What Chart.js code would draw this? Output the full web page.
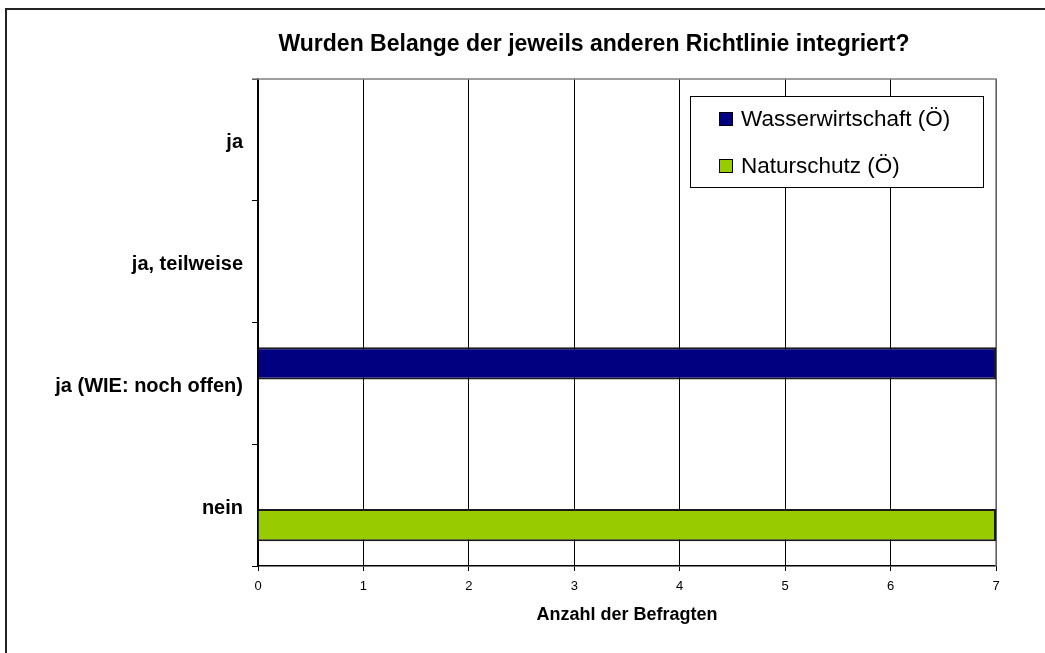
<!DOCTYPE html>
<html lang="de">
<head>
<meta charset="utf-8">
<title>Wurden Belange der jeweils anderen Richtlinie integriert?</title>
<script src="https://cdn.jsdelivr.net/npm/chart.js@4.4.0/dist/chart.umd.min.js"></script>
<style>
  html, body { margin: 0; padding: 0; background: #fff; }
  canvas { display: block; }
</style>
</head>
<body>
<canvas id="chart" width="1045" height="653"></canvas>
<script>
/* ── Data ─────────────────────────────────────────────────── */
const TITLE = 'Wurden Belange der jeweils anderen Richtlinie integriert?';
const CATEGORIES = ['ja', 'ja, teilweise', 'ja (WIE: noch offen)', 'nein'];
const WASSER = [0, 0, 7, 0];
const NATUR  = [0, 0, 0, 7];
const X_TICKS = [0, 1, 2, 3, 4, 5, 6, 7];
const X_TITLE = 'Anzahl der Befragten';

const FONT = "'Liberation Sans', Arial, sans-serif";

/* ── Frame, title and legend box ─────────────────────────────── */
const framePlugin = {
  id: 'frame',
  beforeDraw(chart) {
    const { ctx } = chart;
    ctx.save();
    ctx.fillStyle = '#fff';
    ctx.fillRect(0, 0, chart.width, chart.height);
    ctx.strokeStyle = '#222';
    ctx.lineWidth = 2;
    ctx.strokeRect(6, 9, chart.width + 20, chart.height + 20);
    ctx.restore();
  },
  beforeDatasetsDraw(chart) {
    const { ctx, chartArea: a } = chart;
    ctx.save();
    ctx.strokeStyle = '#808080';
    ctx.lineWidth = 1.5;
    ctx.beginPath();
    ctx.moveTo(a.left - 6, a.top);
    ctx.lineTo(a.right, a.top);
    ctx.lineTo(a.right, a.bottom);
    ctx.stroke();
    ctx.restore();
  },
  afterDraw(chart) {
    const { ctx } = chart;
    ctx.save();
    // title
    ctx.fillStyle = '#000';
    ctx.font = `bold 23px ${FONT}`;
    ctx.textAlign = 'center';
    ctx.textBaseline = 'middle';
    ctx.fillText(TITLE, 594, 45);

    // legend
    const items = chart.data.datasets;
    ctx.fillStyle = '#fff';
    ctx.fillRect(690, 96, 293, 91);
    ctx.strokeStyle = '#000';
    ctx.lineWidth = 1;
    ctx.strokeRect(690.5, 96.5, 293, 91);
    ctx.font = `22.5px ${FONT}`;
    ctx.textAlign = 'left';
    items.forEach((ds, i) => {
      const y = 119 + i * 47;
      ctx.fillStyle = ds.backgroundColor;
      ctx.fillRect(719, y - 7, 14, 14);
      ctx.strokeRect(719.5, y - 6.5, 13, 13);
      ctx.fillStyle = '#000';
      ctx.fillText(ds.label, 741, y + 1);
    });
    ctx.restore();
  },
};

/* ── Chart ─────────────────────────────────────────────────── */
Chart.defaults.font.family = FONT;
Chart.defaults.color = '#000';

new Chart(document.getElementById('chart').getContext('2d'), {
  type: 'bar',
  data: {
    labels: CATEGORIES,
    datasets: [
      {
        label: 'Wasserwirtschaft (Ö)',
        data: WASSER,
        backgroundColor: '#000080',
        borderColor: '#1a1a1a',
        borderWidth: 2,
        barPercentage: 0.81,
        categoryPercentage: 0.657,
      },
      {
        label: 'Naturschutz (Ö)',
        data: NATUR,
        backgroundColor: '#99cc00',
        borderColor: '#1a1a1a',
        borderWidth: 2,
        barPercentage: 0.81,
        categoryPercentage: 0.657,
      },
    ],
  },
  options: {
    indexAxis: 'y',
    responsive: false,
    animation: false,
    layout: { padding: { left: 6, top: 79, right: 49, bottom: 17 } },
    plugins: {
      legend: { display: false },
      title: { display: false },
      tooltip: { enabled: false },
    },
    scales: {
      y: {
        type: 'category',
        afterFit: s => { s.width = 252; },
        ticks: { font: { size: 20, weight: 'bold' }, color: '#000', padding: 9, labelOffset: 3 },
        grid: { offset: true, drawOnChartArea: false, drawTicks: true, tickLength: 6, color: '#000' },
        border: { color: '#000', width: 1.5 },
      },
      x: {
        type: 'linear',
        min: 0,
        max: 7,
        afterFit: s => { s.height = 70; },
        afterBuildTicks: s => { s.ticks = X_TICKS.map(v => ({ value: v })); },
        ticks: { font: { size: 13 }, color: '#000', padding: 8 },
        grid: { color: '#000', lineWidth: 1, tickLength: 5 },
        border: { color: '#000', width: 1.5 },
        title: {
          display: true,
          text: X_TITLE,
          font: { size: 18, weight: 'bold' },
          color: '#000',
          padding: { top: 0, bottom: 10 },
        },
      },
    },
  },
  plugins: [framePlugin],
});
</script>
</body>
</html>
